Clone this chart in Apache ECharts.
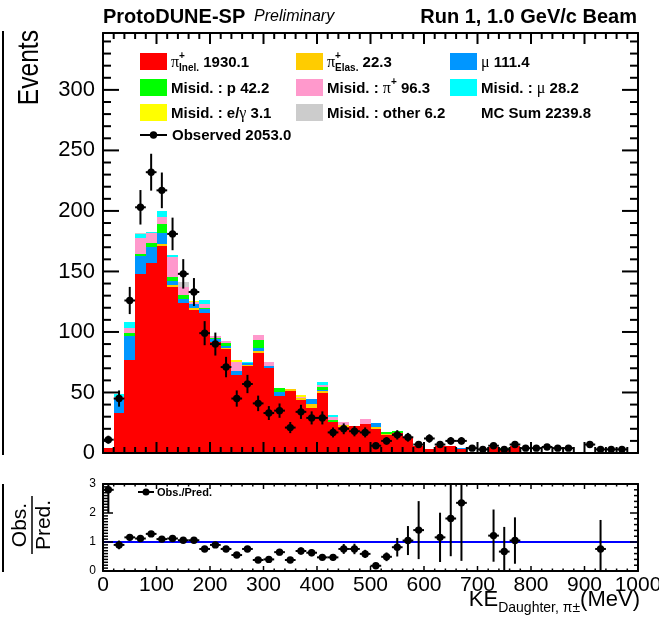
<!DOCTYPE html>
<html>
<head>
<meta charset="utf-8">
<script src="https://cdn.jsdelivr.net/npm/echarts@6/dist/echarts.min.js"></script>
<style>
  html, body { margin: 0; padding: 0; background: #ffffff; }
  #chart { width: 659px; height: 620px; }
</style>
</head>
<body>
<div id="chart"></div>
<script>
// ---- binning: 20 MeV bins from 0 to 1000 MeV ----
const binLow = [0, 20, 40, 60, 80, 100, 120, 140, 160, 180,
  200, 220, 240, 260, 280, 300, 320, 340, 360, 380,
  400, 420, 440, 460, 480, 500, 520, 540, 560, 580,
  600, 620, 640, 660, 680, 700, 720, 740, 760, 780,
  800, 820, 840, 860, 880, 900, 920, 940, 960, 980];
const binWidth = 20;

// ---- MC stack components (events per bin) ----
const piInel = [4, 33, 77, 148, 156.6, 171, 137, 123.6, 118, 116,
  92, 86, 64.4, 71.8, 82.3, 70.5, 47.3, 51.2, 43.8, 37.4,
  49.8, 25.9, 21.7, 22.3, 23.9, 20, 15, 16.2, 12.1, 5.8,
  3.5, 6, 5.5, 3.4, 0, 0, 4.8, 3.5, 5.5, 0,
  0, 0, 0, 0, 0, 0, 0, 0, 0, 0];
const piElas = [0, 0, 0, 0, 0, 1.7, 1.9, 0, 2.2, 0,
  0, 0.6, 0, 0.8, 1.9, 0, 0, 1.4, 1.3, 2.8,
  1.7, 0, 1.3, 0, 0, 1.5, 1, 0, 0, 0,
  0, 0, 0, 0, 0, 0, 0, 0, 0, 0,
  0, 0, 0, 0, 0, 0, 0, 0, 0, 0];
const muon = [0, 12, 20, 15, 13.8, 8.8, 3.3, 3.6, 3.3, 3,
  1.9, 1.9, 3.6, 1.4, 2.8, 1.6, 3.1, 0, 0, 4.4,
  0.8, 0, 0, 0, 0, 3, 0, 0, 0, 0,
  0, 0, 0, 0.8, 0, 0, 0, 0, 0.5, 0,
  0, 1.2, 0, 0, 0, 0, 0, 0, 0, 0];
const misidP = [0, 0, 2, 1.4, 3.3, 7.7, 2.8, 3.3, 0, 1,
  0.9, 2.2, 0, 0, 6.3, 0, 3, 0, 0, 0,
  2.4, 1.1, 0, 0, 0, 0, 1.5, 1.8, 0, 0,
  0, 0, 0, 0, 0, 0, 0, 1, 0, 0,
  0, 0, 0, 0, 0, 0, 0, 0, 0, 0];
const misidPi = [0, 1, 4.5, 13.5, 7.7, 5.5, 17.3, 6.8, 1.5, 3.3,
  1.9, 1.9, 7.4, 0, 4.1, 3.3, 0, 0, 1.4, 0,
  1.8, 2.5, 2.3, 0, 3.9, 0, 0, 0, 0, 0,
  0, 0, 0, 0, 0, 0, 0, 0, 0, 0,
  0, 0, 0, 0, 0, 0, 0, 0, 0, 0];
const misidMu = [0, 3, 4.5, 2.8, 1.4, 5.2, 1.4, 0, 0, 2.7,
  0, 0, 0, 0.8, 0, 0, 0, 0, 0, 0,
  1.8, 1.9, 0, 0, 0, 0, 0, 0, 0, 0,
  0, 0, 0, 0, 0, 0, 0, 0, 0, 0,
  0, 0, 0, 0, 0, 0, 0, 0, 0, 0];
const misidEGamma = [0, 0, 0, 0, 0, 0, 0, 0, 0.5, 0,
  0, 0, 1.5, 0, 0, 0, 0, 0, 1.1, 0,
  0, 0, 0, 0, 0, 0, 0, 0, 0, 0,
  0, 0, 0, 0, 0, 0, 0, 0, 0, 0,
  0, 0, 0, 0, 0, 0, 0, 0, 0, 0];
const misidOther = [0, 0, 0, 1.3, 0, 0, 0, 4.2, 0, 0,
  0, 0, 0, 0, 0, 0, 0, 0, 0, 0,
  0, 0, 0, 0, 0, 0, 0, 0, 0, 0,
  0, 0, 0, 0, 0, 0, 0, 0, 0, 0,
  0, 0, 0, 0, 0, 0, 0, 0, 0, 0];

// ---- observed events per bin ----
const observed = [11, 45, 126, 203, 232, 217, 181, 148, 133, 99,
  90, 71, 45, 57, 41, 33, 35, 21, 34, 29,
  29, 17, 20, 18, 17, 6, 10, 15, 13, 7,
  12, 7, 10, 10, 4, 3, 6, 3, 7, 4,
  4, 5, 4, 4, 0, 7, 3, 3, 3, 0];

// ---- Obs./Pred. ratio and its uncertainty (null: not drawn) ----
const ratio = [2.8, 0.9, 1.16, 1.12, 1.28, 1.1, 1.12, 1.06, 1.06, 0.76,
  0.9, 0.76, 0.55, 0.76, 0.38, 0.4, 0.65, 0.38, 0.69, 0.63,
  0.47, 0.47, 0.76, 0.76, 0.59, 0.18, 0.49, 0.82, 1.05, 1.41,
  null, 1.16, 1.81, 2.35, null, null, 1.22, 0.67, 1.05, null,
  null, null, null, null, null, null, 0.76, null, null, null];
const ratioErr = [0.8, 0.15, 0.1, 0.08, 0.09, 0.08, 0.08, 0.09, 0.09, 0.08,
  0.1, 0.09, 0.08, 0.1, 0.06, 0.07, 0.11, 0.08, 0.12, 0.12,
  0.09, 0.11, 0.17, 0.18, 0.14, 0.07, 0.15, 0.32, 0.5, 1.0,
  null, 0.85, 1.3, 2.0, null, null, 0.9, 0.85, 0.8, null,
  null, null, null, null, null, null, 1.0, null, null, null];

// ---- axis ticks / labels ----
const xTickLabels = [0, 100, 200, 300, 400, 500, 600, 700, 800, 900, 1000];
const yMainLabels = [0, 50, 100, 150, 200, 250, 300];
const yRatioLabels = [0, 1, 2, 3];

// legend captions
const legendTotals = { inel: '1930.1', elas: '22.3', mu: '111.4', p: '42.2', pi: '96.3', muMis: '28.2', eg: '3.1', other: '6.2', mc: '2239.8', obs: '2053.0' };

const stackOrder = [
  { values: piInel, color: '#ff0000' },
  { values: piElas, color: '#ffcc00' },
  { values: muon, color: '#0096ff' },
  { values: misidP, color: '#00ff00' },
  { values: misidPi, color: '#ff99cc' },
  { values: misidMu, color: '#00ffff' },
  { values: misidEGamma, color: '#ffff00' },
  { values: misidOther, color: '#cccccc' }
];

const SANS = '"Liberation Sans", Arial, Helvetica, sans-serif';
const SERIF = '"Liberation Serif", "Times New Roman", serif';
const X_MAX = 1000;
const Y_MAIN_MAX = 347;
const Y_RATIO_MAX = 3;
const GRID_MAIN = { left: 103, top: 33, width: 535, height: 420 };
const GRID_RATIO = { left: 103, top: 484, width: 535, height: 87 };

// ---- build stacked rectangles ----
const running = binLow.map(() => 0);
const stackSeries = stackOrder.map((comp) => {
  const rows = [];
  comp.values.forEach((v, i) => {
    const base = running[i];
    const top = base + v;
    running[i] = top;
    if (v > 0) rows.push([binLow[i], binLow[i] + binWidth, base, top]);
  });
  return {
    type: 'custom',
    xAxisIndex: 0, yAxisIndex: 0,
    z: 2,
    clip: true,
    itemStyle: { color: comp.color },
    encode: { x: [0, 1], y: [2, 3] },
    data: rows,
    renderItem: function (params, api) {
      const p0 = api.coord([api.value(0), api.value(3)]);
      const p1 = api.coord([api.value(1), api.value(2)]);
      const x0 = Math.round(p0[0]), x1 = Math.round(p1[0]);
      const y0 = Math.round(p0[1]), y1 = Math.round(p1[1]);
      if (y1 - y0 <= 0) return null;
      return { type: 'rect', shape: { x: x0, y: y0, width: x1 - x0, height: y1 - y0 },
        style: { fill: api.visual('color') } };
    }
  };
});

// ---- points with error bars ----
function pointRenderer(params, api) {
  const lo = api.value(0), hi = api.value(1), v = api.value(2), e = api.value(3);
  const mid = (lo + hi) / 2;
  const c = api.coord([mid, v]);
  const l = api.coord([lo, v]);
  const r = api.coord([hi, v]);
  const t = api.coord([mid, v + e]);
  const b = api.coord([mid, Math.max(v - e, 0)]);
  return {
    type: 'group',
    children: [
      { type: 'line', shape: { x1: l[0], y1: c[1], x2: r[0], y2: c[1] }, style: { stroke: '#000', lineWidth: 2 } },
      { type: 'line', shape: { x1: c[0], y1: t[1], x2: c[0], y2: b[1] }, style: { stroke: '#000', lineWidth: 2 } },
      { type: 'circle', shape: { cx: c[0], cy: c[1], r: 3.7 }, style: { fill: '#000' } }
    ]
  };
}

const obsRows = [];
observed.forEach((n, i) => {
  if (n > 0) obsRows.push([binLow[i], binLow[i] + binWidth, n, Math.sqrt(n)]);
});
const ratioRows = [];
ratio.forEach((rv, i) => {
  if (rv !== null) ratioRows.push([binLow[i], binLow[i] + binWidth, rv, ratioErr[i]]);
});

// ---- axes (frame lines + labels) ----
const black = '#000000';
function xAxisDef(grid, pos, showLabels) {
  return {
    type: 'value', gridIndex: grid, position: pos, min: 0, max: X_MAX, interval: 100, z: 10,
    axisLine: { show: true, onZero: false, lineStyle: { color: black, width: 2 } },
    axisTick: { show: false },
    minorTick: { show: false },
    splitLine: { show: false },
    axisLabel: showLabels ? {
      show: true, color: black, fontSize: 21, fontFamily: SANS, margin: 4,
      customValues: xTickLabels, formatter: (v) => String(v),
      showMinLabel: true, showMaxLabel: true, hideOverlap: false
    } : { show: false }
  };
}
function yAxisDef(grid, pos, max, interval, labels, labelSize, labelMargin) {
  return {
    type: 'value', gridIndex: grid, position: pos, min: 0, max: max, interval: interval, z: 10,
    axisLine: { show: true, onZero: false, lineStyle: { color: black, width: 2 } },
    axisTick: { show: false },
    minorTick: { show: false },
    splitLine: { show: false },
    axisLabel: labels ? {
      show: true, color: black, fontSize: labelSize, fontFamily: SANS, margin: labelMargin,
      customValues: labels, formatter: (v) => String(v),
      showMinLabel: true, showMaxLabel: true, hideOverlap: false
    } : { show: false }
  };
}

// ---- tick marks inside both frames (thin filled bars) ----
function steps(from, to, step, skipEvery) {
  const out = [];
  const n = Math.round((to - from) / step);
  for (let k = 0; k <= n; k++) {
    if (skipEvery && k % skipEvery === 0) continue;
    out.push(+(from + k * step).toFixed(6));
  }
  return out;
}
const xMajorTicks = steps(0, 1000, 100);
const xMinorTicks = steps(0, 1000, 20, 5);
const yMainMajorTicks = steps(0, 300, 50);
const yMainMinorTicks = steps(0, 340, 10, 5);
const yRatioMajorTicks = steps(0, 3, 1);
const yRatioMinorLeft = steps(0, 3, 0.1, 10);
const yRatioMinorRight = steps(0, 3, 0.2, 5);

function tickRects(rect, yMax, xTicks, yLeft, yRight, thick) {
  const out = [];
  const xl = rect.left, xr = rect.left + rect.width;
  const yt = rect.top, yb = rect.top + rect.height;
  const xPix = (v) => xl + rect.width * v / X_MAX;
  const yPix = (v) => yb - rect.height * v / yMax;
  const bar = (x, y, w, h) => out.push({ type: 'rect', z: 100, silent: true, shape: { x: x, y: y, width: w, height: h }, style: { fill: '#000000' } });
  xTicks.forEach(([vals, len]) => vals.forEach((v) => {
    const x = xPix(v) - thick / 2;
    bar(x, yb - len, thick, len);
    bar(x, yt, thick, len);
  }));
  yLeft.forEach(([vals, len]) => vals.forEach((v) => {
    bar(xl, yPix(v) - thick / 2, len, thick);
  }));
  yRight.forEach(([vals, len]) => vals.forEach((v) => {
    bar(xr - len, yPix(v) - thick / 2, len, thick);
  }));
  return out;
}

const option = {
  animation: false,
  backgroundColor: '#ffffff',
  grid: [
    Object.assign({ outerBoundsMode: 'none', containLabel: false, show: false }, GRID_MAIN),
    Object.assign({ outerBoundsMode: 'none', containLabel: false, show: false }, GRID_RATIO)
  ],
  xAxis: [
    xAxisDef(0, 'bottom', false),
    xAxisDef(0, 'top', false),
    xAxisDef(1, 'bottom', true),
    xAxisDef(1, 'top', false)
  ],
  yAxis: [
    yAxisDef(0, 'left', Y_MAIN_MAX, 50, yMainLabels, 22, 8),
    yAxisDef(0, 'right', Y_MAIN_MAX, 50, null),
    yAxisDef(1, 'left', Y_RATIO_MAX, 1, yRatioLabels, 12, 7),
    yAxisDef(1, 'right', Y_RATIO_MAX, 1, null)
  ],
  series: stackSeries.concat([
    {
      type: 'custom', xAxisIndex: 0, yAxisIndex: 0, z: 5, clip: true,
      encode: { x: [0, 1], y: 2 }, data: obsRows, renderItem: pointRenderer
    },
    {
      type: 'line', xAxisIndex: 2, yAxisIndex: 2, z: 4, symbol: 'none', silent: true,
      lineStyle: { color: '#0000ff', width: 2 },
      data: [[0, 1], [1000, 1]]
    },
    {
      type: 'custom', xAxisIndex: 2, yAxisIndex: 2, z: 5, clip: true,
      encode: { x: [0, 1], y: 2 }, data: ratioRows, renderItem: pointRenderer
    }
  ])
};

// ---- text helpers ----
const measureCtx = document.createElement('canvas').getContext('2d');
function fontOf(p) {
  return (p.italic ? 'italic ' : '') + (p.bold ? 'bold ' : '') + p.size + 'px ' + (p.serif ? SERIF : SANS);
}
function widthOf(p) { measureCtx.font = fontOf(p); return measureCtx.measureText(p.t).width; }
function textEl(x, y, p, align) {
  return {
    type: 'text', x: x, y: y, z: 100,
    style: {
      text: p.t, fill: '#000', fontSize: p.size, fontFamily: p.serif ? SERIF : SANS,
      fontWeight: p.bold ? 'bold' : 'normal', fontStyle: p.italic ? 'italic' : 'normal',
      align: align || 'left', verticalAlign: 'middle'
    }
  };
}
// lays pieces left to right; a piece flagged "over" shares its x with the next piece
function runText(x, y, parts) {
  const els = [];
  let cx = x;
  for (let i = 0; i < parts.length; i++) {
    const p = parts[i];
    if (p.over && i + 1 < parts.length) {
      const q = parts[i + 1];
      els.push(textEl(cx, y + (p.dy || 0), p));
      els.push(textEl(cx, y + (q.dy || 0), q));
      cx += Math.max(widthOf(p), widthOf(q));
      i++;
    } else {
      els.push(textEl(cx, y + (p.dy || 0), p));
      cx += widthOf(p);
    }
  }
  return els;
}
function runWidth(parts) {
  let w = 0;
  for (let i = 0; i < parts.length; i++) {
    const p = parts[i];
    if (p.over && i + 1 < parts.length) { w += Math.max(widthOf(p), widthOf(parts[i + 1])); i++; }
    else w += widthOf(p);
  }
  return w;
}

const graphics = [];

graphics.push(...tickRects(GRID_MAIN, Y_MAIN_MAX,
  [[xMajorTicks, 11], [xMinorTicks, 6]],
  [[yMainMajorTicks, 16], [yMainMinorTicks, 8]],
  [[yMainMajorTicks, 16], [yMainMinorTicks, 8]], 2));
graphics.push(...tickRects(GRID_RATIO, Y_RATIO_MAX,
  [[xMajorTicks, 5], [xMinorTicks, 2.5]],
  [[yRatioMajorTicks, 10], [yRatioMinorLeft, 5]],
  [[yRatioMajorTicks, 8], [yRatioMinorRight, 4]], 1.5));

// ---- titles ----
const B = (t) => ({ t: t, size: 15, bold: true });
const SYM = (t) => ({ t: t, size: 16, serif: true });
const SUP = (t) => ({ t: t, size: 10, bold: true, dy: -6, over: true });
const SUB = (t) => ({ t: t, size: 10, bold: true, dy: 6 });
const SUPONLY = (t) => ({ t: t, size: 10, bold: true, dy: -6 });

graphics.push(...runText(103, 17, [{ t: 'ProtoDUNE-SP', size: 20, bold: true }, { t: '  ', size: 16 }, { t: 'Preliminary', size: 16, italic: true }]));
graphics.push(textEl(637, 17, { t: 'Run 1, 1.0 GeV/c Beam', size: 20, bold: true }, 'right'));

// ---- legend ----
const colX = [140, 296, 450];
const rowY = [61.5, 87.5, 112.5, 135];
const boxW = 27, boxH = 17;
const legendEntries = [
  { col: 0, row: 0, color: '#ff0000', parts: [SYM('π'), SUP('+'), SUB('Inel.'), B(' ' + legendTotals.inel)] },
  { col: 1, row: 0, color: '#ffcc00', parts: [SYM('π'), SUP('+'), SUB('Elas.'), B(' ' + legendTotals.elas)] },
  { col: 2, row: 0, color: '#0096ff', parts: [SYM('μ'), B(' ' + legendTotals.mu)] },
  { col: 0, row: 1, color: '#00ff00', parts: [B('Misid. : p ' + legendTotals.p)] },
  { col: 1, row: 1, color: '#ff99cc', parts: [B('Misid. : '), SYM('π'), SUPONLY('+'), B(' ' + legendTotals.pi)] },
  { col: 2, row: 1, color: '#00ffff', parts: [B('Misid. : '), SYM('μ'), B(' ' + legendTotals.muMis)] },
  { col: 0, row: 2, color: '#ffff00', parts: [B('Misid. : e/'), SYM('γ'), B(' ' + legendTotals.eg)] },
  { col: 1, row: 2, color: '#cccccc', parts: [B('Misid. : other ' + legendTotals.other)] },
  { col: 2, row: 2, color: null, parts: [B('MC Sum ' + legendTotals.mc)] }
];
legendEntries.forEach((e) => {
  const x = colX[e.col], y = rowY[e.row];
  if (e.color) {
    graphics.push({ type: 'rect', z: 100, shape: { x: x, y: y - boxH / 2, width: boxW, height: boxH }, style: { fill: e.color } });
  }
  graphics.push(...runText(x + boxW + 4, y + 1, e.parts));
});
// observed legend entry
graphics.push({ type: 'line', z: 100, shape: { x1: colX[0], y1: rowY[3], x2: colX[0] + boxW, y2: rowY[3] }, style: { stroke: '#000', lineWidth: 2 } });
graphics.push({ type: 'circle', z: 100, shape: { cx: colX[0] + boxW / 2, cy: rowY[3], r: 3.7 }, style: { fill: '#000' } });
graphics.push(...runText(colX[0] + boxW + 5, rowY[3] + 1, [B('Observed ' + legendTotals.obs)]));

// ratio legend
graphics.push({ type: 'line', z: 100, shape: { x1: 138, y1: 492, x2: 154, y2: 492 }, style: { stroke: '#000', lineWidth: 2 } });
graphics.push({ type: 'circle', z: 100, shape: { cx: 146, cy: 492, r: 3.5 }, style: { fill: '#000' } });
graphics.push(textEl(157, 492.5, { t: 'Obs./Pred.', size: 11, bold: true }));

// ---- axis titles ----
graphics.push({
  type: 'text', x: 30, y: 30, rotation: Math.PI / 2, scaleX: 0.82, z: 100,
  style: { text: 'Events', fill: '#000', fontSize: 30, fontFamily: SANS, align: 'right', verticalAlign: 'middle' }
});
graphics.push({
  type: 'group', x: 32, y: 525, rotation: Math.PI / 2, z: 100,
  children: [
    { type: 'text', x: 0, y: -12, style: { text: 'Obs.', fill: '#000', fontSize: 21, fontFamily: SANS, align: 'center', verticalAlign: 'middle' } },
    { type: 'line', shape: { x1: -29, y1: 0, x2: 29, y2: 0 }, style: { stroke: '#000', lineWidth: 1.5 } },
    { type: 'text', x: 0, y: 12, style: { text: 'Pred.', fill: '#000', fontSize: 21, fontFamily: SANS, align: 'center', verticalAlign: 'middle' } }
  ]
});
const xTitleParts = [{ t: 'KE', size: 22 }, { t: 'Daughter, π±', size: 14, dy: 8 }, { t: '(MeV)', size: 22 }];
graphics.push(...runText(640 - runWidth(xTitleParts), 600, xTitleParts));

// neighbouring frame edge at the far left
graphics.push({ type: 'line', z: 100, shape: { x1: 3, y1: 31, x2: 3, y2: 455 }, style: { stroke: '#000', lineWidth: 2 } });
graphics.push({ type: 'line', z: 100, shape: { x1: 3, y1: 484, x2: 3, y2: 572 }, style: { stroke: '#000', lineWidth: 2 } });

option.graphic = graphics;

const chart = echarts.init(document.getElementById('chart'), null, { renderer: 'canvas', width: 659, height: 620 });
chart.setOption(option);
</script>
</body>
</html>
